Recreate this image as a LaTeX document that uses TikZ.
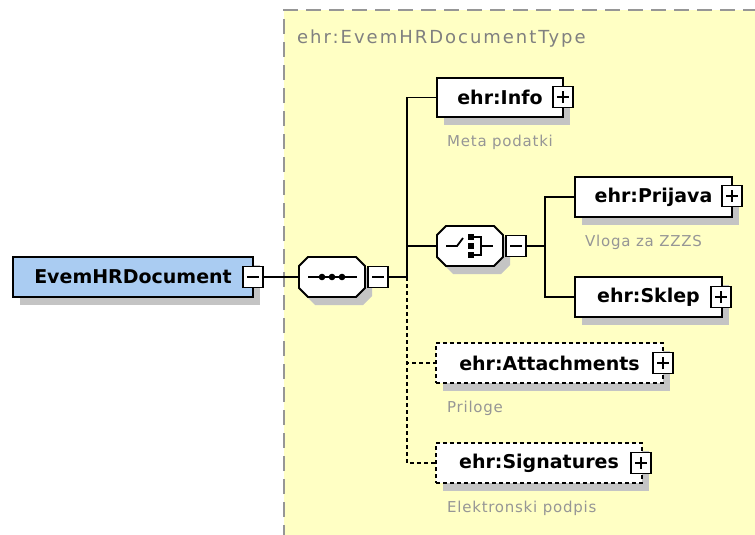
\documentclass[tikz,border=0pt]{standalone}
\usepackage{fontspec}
\setmainfont{DejaVu Sans}
\newfontfamily\descf[LetterSpace=5]{DejaVu Sans}
\newfontfamily\titlef[LetterSpace=11]{DejaVu Sans}
\usetikzlibrary{shadows}
\definecolor{yellowc}{RGB}{255,255,196}
\definecolor{bluec}{RGB}{170,204,242}
\definecolor{shadowc}{RGB}{196,196,196}
\definecolor{borderc}{RGB}{150,150,150}
\definecolor{descc}{RGB}{150,150,150}
\definecolor{titlec}{RGB}{128,128,128}
\tikzset{
  x=1pt, y=-1pt,
  conn/.style={line width=1.8pt, black},
  optconn/.style={conn, dash pattern=on 4pt off 3pt},
  shad/.style={drop shadow={shadow xshift=7pt, shadow yshift=-8pt, fill=shadowc, opacity=1}},
  elem/.style={draw, line width=1.8pt, fill=white, shad, minimum height=40pt, inner sep=0pt,
    font=\fontsize{19}{21}\selectfont\bfseries},
  optelem/.style={elem, dash pattern=on 4pt off 3pt},
  rootelem/.style={elem, fill=bluec, font=\fontsize{19}{21}\selectfont\bfseries},
  compbox/.style={minimum width=66pt, minimum height=40pt, inner sep=0pt},
  octa/.pic={
    \fill[shadowc, shift={(7,8)}] (-24,-20) -- (24,-20) -- (33,-11) -- (33,11) -- (24,20) -- (-24,20) -- (-33,11) -- (-33,-11) -- cycle;
    \filldraw[fill=white, line width=1.8pt] (-24,-20) -- (24,-20) -- (33,-11) -- (33,11) -- (24,20) -- (-24,20) -- (-33,11) -- (-33,-11) -- cycle;
  },
  pm/.style={draw, line width=1.8pt, fill=white, minimum width=20pt, minimum height=21pt, inner sep=0pt},
  pminus/.style={pm, path picture={\draw[line width=1.6pt]
      ([xshift=-6pt]path picture bounding box.center) -- ([xshift=6pt]path picture bounding box.center);}},
  pplus/.style={pm, path picture={\draw[line width=1.6pt]
      ([xshift=-6pt]path picture bounding box.center) -- ([xshift=6pt]path picture bounding box.center)
      ([yshift=-6pt]path picture bounding box.center) -- ([yshift=6pt]path picture bounding box.center);}},
  desc/.style={anchor=west, inner sep=0pt, text=descc, font=\fontsize{15}{16}\descf},
  titletext/.style={anchor=west, inner sep=0pt, text=titlec, font=\fontsize{18}{20}\titlef},
}
\begin{document}
\begin{tikzpicture}
\useasboundingbox (0,0) rectangle (755,535);
% complex type background
\fill[yellowc] (284,10) rectangle (760,540);
\draw[borderc, line width=2pt, dash pattern=on 15pt off 8pt] (284,540) -- (284,10) -- (760,10);
\node[titletext] (ttl) at (297,39) {ehr:EvemHRDocumentType};

% root element
\node[rootelem, minimum width=240pt] (root) at (133,277) {EvemHRDocument\hspace{6pt}};
\node[pminus] (rootm) at (253,277) {};

% sequence compositor
\pic at (332,277) {octa};
\node[compbox] (seq) at (332,277) {};
\draw[line width=1.8pt] ([xshift=-24pt]seq.center) -- ([xshift=25pt]seq.center);
\foreach \dx in {-10,0,10}
  \fill ([xshift=\dx pt]seq.center) circle (3.3);
\node[pminus] (seqm) at (378,277) {};

% children
\node[elem, minimum width=126pt, minimum height=39pt] (info) at (500,97.5) {ehr:Info\hspace{9pt}};
\node[pplus] (infop) at (563,97) {};
\node[desc] (infod) at (447,142) {Meta podatki};

% choice compositor
\pic at (470,246) {octa};
\node[compbox] (ch) at (470,246) {};
\draw[line width=1.8pt] ([xshift=-24pt]ch.center) -- ([xshift=-13pt]ch.center) -- ([xshift=-7pt,yshift=8pt]ch.center);
\foreach \dy in {-9,0,9}
  \fill ([xshift=1pt,yshift=\dy pt]ch.center) ++(-3,-3) rectangle ++(6,6);
\draw[line width=1.8pt] ([xshift=4pt,yshift=9pt]ch.center) -- ([xshift=11pt,yshift=9pt]ch.center)
  -- ([xshift=11pt,yshift=-9pt]ch.center) -- ([xshift=4pt,yshift=-9pt]ch.center);
\draw[line width=1.8pt] ([xshift=11pt]ch.center) -- ([xshift=23pt]ch.center);
\node[pminus] (chm) at (516,246) {};

\node[elem, minimum width=157pt] (prij) at (653.5,197) {ehr:Prijava\hspace{7pt}};
\node[pplus] (prijp) at (732,196) {};
\node[desc] (prijd) at (585,242) {Vloga za ZZZS};

\node[elem, minimum width=147pt] (sklep) at (648.5,297) {ehr:Sklep\hspace{8pt}};
\node[pplus] (sklepp) at (721,297) {};

\node[optelem, minimum width=227pt] (att) at (549.5,363) {ehr:Attachments\hspace{6pt}};
\node[pplus] (attp) at (663,363) {};
\node[desc] (attd) at (447,408) {Priloge};

\node[optelem, minimum width=206pt] (sig) at (539,463) {ehr:Signatures\hspace{8pt}};
\node[pplus] (sigp) at (641,463) {};
\node[desc] (sigd) at (447,508) {Elektronski podpis};

% connectors
\coordinate (j1) at (407,277);
\coordinate (j2) at (545,246);
\draw[conn] (rootm.east) -- (seq.west);
\draw[conn] (seqm.east) -- (j1);
\draw[conn] (j1) |- (info.west);
\draw[conn] (j1) |- (ch.west);
\draw[optconn] (j1) |- (att.west);
\draw[optconn] (j1) |- (sig.west);
\draw[conn] (chm.east) -- (j2);
\draw[conn] (j2) |- (prij.west);
\draw[conn] (j2) |- (sklep.west);
\end{tikzpicture}
\end{document}
